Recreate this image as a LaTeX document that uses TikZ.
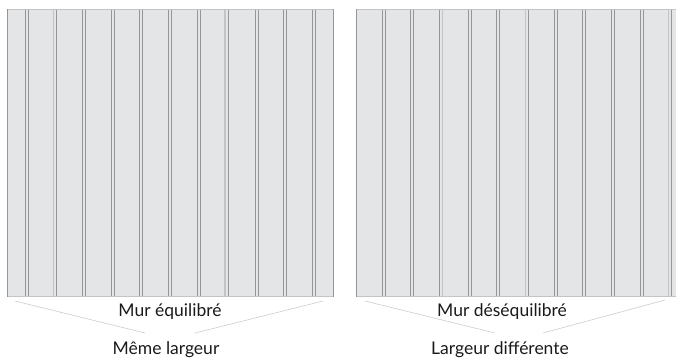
\documentclass[tikz,border=0pt]{standalone}
\usepackage{fontspec}
\setmainfont{Lato}
\definecolor{wallfill}{HTML}{E4E5E7}
\definecolor{seamdark}{HTML}{96969A}
\definecolor{seamlight}{HTML}{C4C4C6}
\definecolor{guide}{HTML}{CDCDCD}
\definecolor{labeltext}{HTML}{1A1A1A}
\tikzset{
  seamline/.style={draw=seamdark, line width=1pt},
  seamsoft/.style={draw=seamlight, line width=1.2pt},
  wallrim/.style={draw=seamlight, line width=1.3pt},
  guideline/.style={draw=guide, line width=0.6pt},
  walllabel/.style={anchor=base, text=labeltext, font=\fontsize{17.5}{20}\selectfont, inner sep=0pt}
}

\def \walltop {9.5}
\def \wallbottom {296.5}
\def \seamgap {3.2}

\begin{document}
\begin{tikzpicture}[x=1pt,y=-1pt]
\useasboundingbox (0,0) rectangle (676,358);

% left wall, same width at both ends
\fill[wallfill] (7,\walltop) rectangle (334,\wallbottom);
\foreach \s in {25.3,82.3,111.3,139.3,168,197,255,283,312}
  \draw[seamline] (\s,\walltop) -- (\s,\wallbottom) (\s+\seamgap,\walltop) -- (\s+\seamgap,\wallbottom);
\foreach \s in {53.3,225}{
  \draw[seamsoft] (\s,\walltop) -- (\s,\wallbottom);
  \draw[seamline] (\s+\seamgap,\walltop) -- (\s+\seamgap,\wallbottom);
}
\draw[wallrim] (7,\walltop) -- (334,\walltop);
\draw[wallrim] (7,\wallbottom) -- (334,\wallbottom);
\draw[seamline] (7,\walltop) -- (7,\wallbottom);
\draw[seamline] (333.5,\walltop) -- (333.5,\wallbottom);

% right wall, runs off the edge
\fill[wallfill] (356,\walltop) rectangle (676,\wallbottom);
\foreach \s in {382,410.7,468,496.7,554,582,611,640}
  \draw[seamline] (\s,\walltop) -- (\s,\wallbottom) (\s+\seamgap,\walltop) -- (\s+\seamgap,\wallbottom);
\foreach \s in {525.7,668.7}{
  \draw[seamsoft] (\s,\walltop) -- (\s,\wallbottom);
  \draw[seamline] (\s+\seamgap,\walltop) -- (\s+\seamgap,\wallbottom);
}
\draw[seamline] (439.3,\walltop) -- (439.3,\wallbottom); % 439
\draw[seamsoft] (442.5,\walltop) -- (442.5,\wallbottom);
\draw[wallrim] (356,\walltop) -- (676,\walltop);
\draw[wallrim] (356,\wallbottom) -- (676,\wallbottom);
\draw[seamline] (356.5,\walltop) -- (356.5,\wallbottom);

% labels
\node[walllabel] (leftname) at (170,316.7) {Mur équilibré};
\node[walllabel] (leftnote) at (166,354) {Même largeur};
\node[walllabel] (rightname) at (502,316.7) {Mur déséquilibré};
\node[walllabel] (rightnote) at (500,354) {Largeur différente};

% funnel lines
\coordinate (lefta) at (15,301);
\coordinate (leftb) at (145,333);
\coordinate (leftc) at (195,333);
\coordinate (leftd) at (323,301);
\coordinate (righta) at (365,301);
\coordinate (rightb) at (495,333);
\coordinate (rightc) at (543,333);
\coordinate (rightd) at (665,300);
\draw[guideline] (lefta) -- (leftb);
\draw[guideline] (leftc) -- (leftd);
\draw[guideline] (righta) -- (rightb);
\draw[guideline] (rightc) -- (rightd);
\end{tikzpicture}
\end{document}
